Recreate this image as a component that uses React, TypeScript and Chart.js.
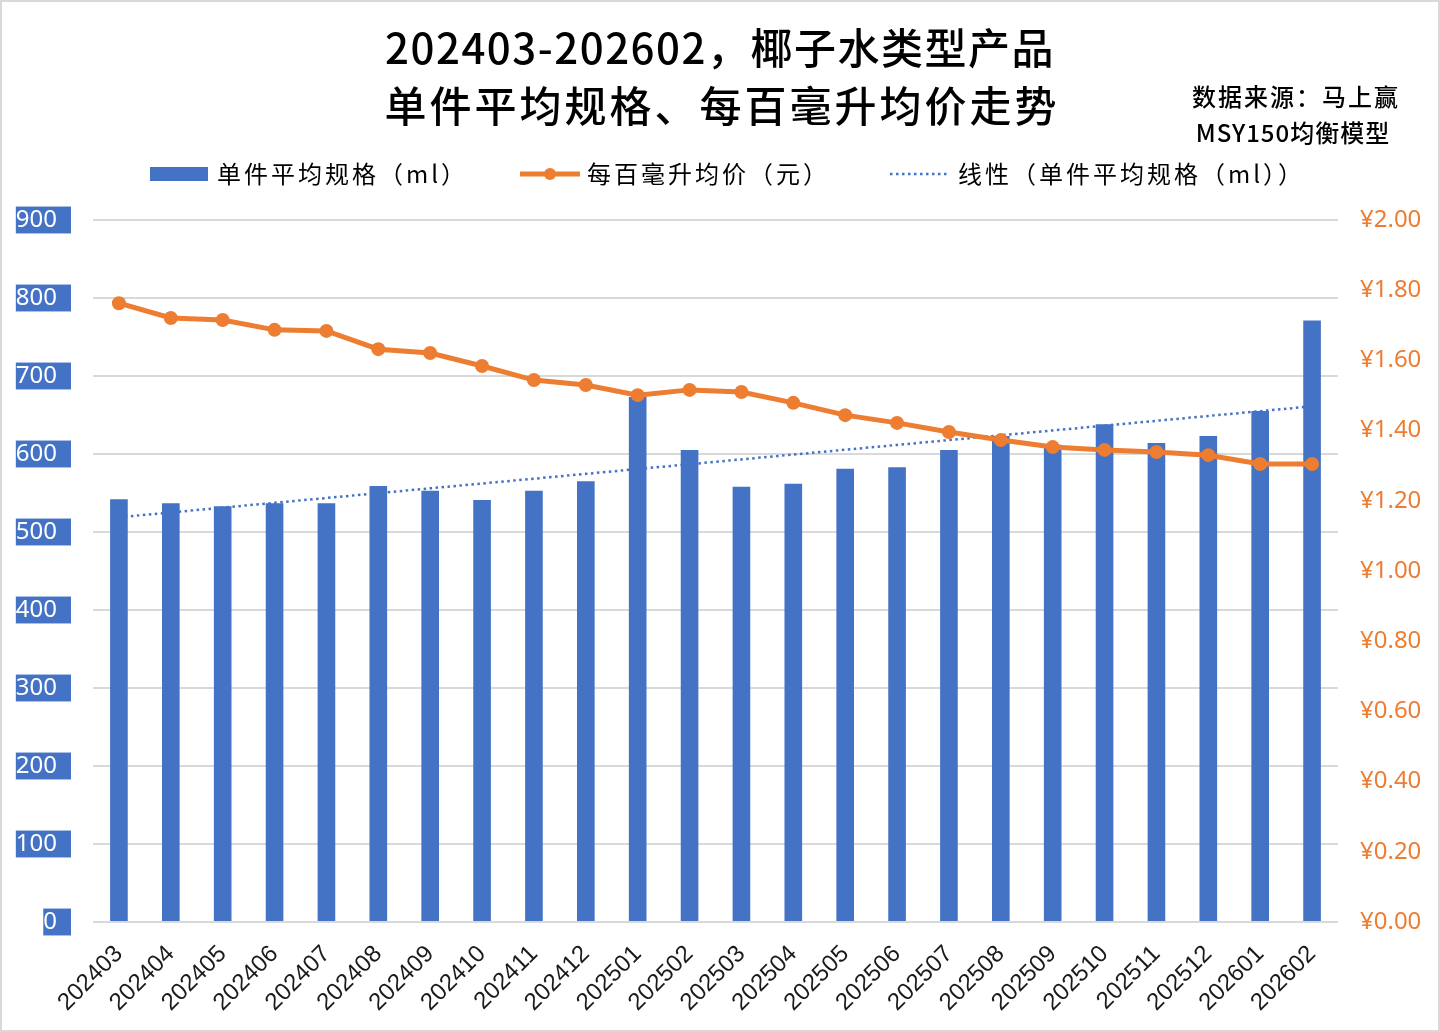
import { useEffect, useRef } from "react"
import { Chart, registerables } from "chart.js"

Chart.register(...registerables)

const months = [
  "202403", "202404", "202405", "202406", "202407", "202408", "202409", "202410",
  "202411", "202412", "202501", "202502", "202503", "202504", "202505", "202506",
  "202507", "202508", "202509", "202510", "202511", "202512", "202601", "202602",
]

// 单件平均规格 (ml)
const avgSize = [
  542, 537, 533, 537, 537, 559, 553, 541, 553, 565, 673, 605,
  558, 562, 581, 583, 605, 623, 612, 638, 614, 623, 655, 771,
]

// 每百毫升均价 (元)
const pricePer100 = [
  1.763, 1.721, 1.715, 1.687, 1.684, 1.632, 1.621, 1.584, 1.544, 1.53, 1.501, 1.516,
  1.51, 1.479, 1.444, 1.422, 1.396, 1.373, 1.353, 1.345, 1.339, 1.33, 1.305, 1.305,
]

const sizeAxis = { min: 0, max: 900, step: 100 }
const priceAxis = { min: 0, max: 2, step: 0.2 }

const titleLines = ["202403-202602，椰子水类型产品", "单件平均规格、每百毫升均价走势"]
const sourceLines = ["数据来源：马上赢", "MSY150均衡模型"]
const seriesNames = ["单件平均规格（ml）", "每百毫升均价（元）", "线性（单件平均规格（ml））"]

const BLUE = "#4472C4"
const ORANGE = "#ED7D31"
const CJK = '"Noto Sans CJK SC", "Noto Sans", sans-serif'

// least squares fit, same as Excel's linear trendline
function linearFit(values: number[]) {
  const n = values.length
  const mx = (n - 1) / 2
  const my = values.reduce((a, b) => a + b, 0) / n
  let num = 0
  let den = 0
  values.forEach((v, i) => {
    num += (i - mx) * (v - my)
    den += (i - mx) * (i - mx)
  })
  const slope = num / den
  return values.map((_, i) => my + slope * (i - mx))
}

const headerPlugin = {
  id: "header",
  beforeDraw(chart: Chart) {
    const { ctx, width, height } = chart
    ctx.save()
    ctx.fillStyle = "#fff"
    ctx.fillRect(0, 0, width, height)
    ctx.restore()
  },
  afterDraw(chart: Chart) {
    const { ctx, width, height } = chart
    const c = ctx as any
    ctx.save()
    ctx.textBaseline = "middle"
    ctx.fillStyle = "#000"

    // title
    ctx.textAlign = "center"
    ctx.font = `500 42px ${CJK}`
    c.letterSpacing = "1.5px"
    ctx.fillText(titleLines[0], 720, 48)
    c.letterSpacing = "3px"
    ctx.fillText(titleLines[1], 722, 106)

    // source note
    ctx.font = `500 24px ${CJK}`
    c.letterSpacing = "2px"
    ctx.fillText(sourceLines[0], 1296, 97)
    c.letterSpacing = "1px"
    ctx.fillText(sourceLines[1], 1293, 133)

    // legend
    ctx.textAlign = "left"
    ctx.font = `400 24px ${CJK}`
    c.letterSpacing = "3px"
    const ly = 174
    ctx.fillStyle = BLUE
    ctx.fillRect(150, 167, 58, 14)
    ctx.fillStyle = "#000"
    ctx.fillText(seriesNames[0], 217, ly)

    ctx.strokeStyle = ORANGE
    ctx.lineWidth = 5
    ctx.beginPath()
    ctx.moveTo(520, ly)
    ctx.lineTo(580, ly)
    ctx.stroke()
    ctx.fillStyle = ORANGE
    ctx.beginPath()
    ctx.arc(550, ly, 6, 0, Math.PI * 2)
    ctx.fill()
    ctx.fillStyle = "#000"
    ctx.fillText(seriesNames[1], 587, ly)

    ctx.strokeStyle = BLUE
    ctx.lineWidth = 2.5
    ctx.setLineDash([2.5, 3.5])
    ctx.beginPath()
    ctx.moveTo(890, ly)
    ctx.lineTo(948, ly)
    ctx.stroke()
    ctx.setLineDash([])
    ctx.fillText(seriesNames[2], 958, ly)

    // frame
    ctx.strokeStyle = "#d9d9d9"
    ctx.lineWidth = 2
    ctx.strokeRect(1, 1, width - 2, height - 2)
    ctx.restore()
  },
}

export default function App() {
  const chartRef = useRef<HTMLCanvasElement | null>(null)
  const chartInstanceRef = useRef<Chart | null>(null)

  useEffect(() => {
    if (!chartRef.current) return
    const ctx = chartRef.current.getContext("2d")
    if (!ctx) return

    if (chartInstanceRef.current) {
      chartInstanceRef.current.destroy()
    }

    const trend = linearFit(avgSize)

    chartInstanceRef.current = new Chart(ctx, {
      type: "bar",
      data: {
        labels: months,
        datasets: [
          {
            type: "line",
            label: seriesNames[1],
            data: pricePer100,
            yAxisID: "y1",
            borderColor: ORANGE,
            backgroundColor: ORANGE,
            borderWidth: 5,
            pointRadius: 7,
            pointBackgroundColor: ORANGE,
            pointBorderWidth: 0,
            order: 1,
          },
          {
            type: "bar",
            label: seriesNames[0],
            data: avgSize,
            yAxisID: "y",
            backgroundColor: BLUE,
            barPercentage: 0.34,
            categoryPercentage: 1,
            order: 2,
          },
          {
            type: "line",
            label: seriesNames[2],
            data: trend,
            yAxisID: "y",
            borderColor: BLUE,
            borderWidth: 2.5,
            borderDash: [2.5, 3.5],
            pointRadius: 0,
            order: 3,
          },
        ],
      },
      options: {
        animation: false,
        responsive: true,
        maintainAspectRatio: false,
        layout: { padding: { top: 220, left: 0, right: 0, bottom: 0 } },
        plugins: {
          legend: { display: false },
          title: { display: false },
          tooltip: { enabled: false },
        },
        scales: {
          x: {
            grid: { display: false },
            border: { display: false },
            ticks: {
              color: "#1a1a1a",
              font: { family: '"Liberation Sans", Arial, sans-serif', size: 24 },
              maxRotation: 45,
              minRotation: 45,
              autoSkip: false,
              padding: 10,
            },
            afterFit(scale: any) {
              scale.height = 110
            },
          },
          y: {
            position: "left",
            min: sizeAxis.min,
            max: sizeAxis.max,
            grid: { color: "#d9d9d9", lineWidth: 2, drawTicks: false },
            border: { display: false },
            ticks: {
              stepSize: sizeAxis.step,
              color: "#fff",
              font: { family: '"Noto Sans", sans-serif', size: 24, lineHeight: 1.12 },
              padding: 36,
              showLabelBackdrop: true,
              backdropColor: BLUE,
              backdropPadding: { top: 0, bottom: 0, left: 0, right: 14 },
            },
            afterFit(scale: any) {
              scale.width = 93
            },
          },
          y1: {
            position: "right",
            min: priceAxis.min,
            max: priceAxis.max,
            grid: { display: false, drawTicks: false },
            border: { display: false },
            ticks: {
              stepSize: priceAxis.step,
              color: ORANGE,
              font: { family: '"Noto Sans", sans-serif', size: 24 },
              padding: 22,
              callback: (v: any) => "¥" + Number(v).toFixed(2),
            },
            afterFit(scale: any) {
              scale.width = 102
            },
          },
        },
      },
      plugins: [headerPlugin],
    } as any)

    return () => {
      if (chartInstanceRef.current) {
        chartInstanceRef.current.destroy()
        chartInstanceRef.current = null
      }
    }
  }, [])

  return (
    <div style={{ position: "fixed", left: 0, top: 0, width: 1440, height: 1032 }}>
      <canvas ref={chartRef}></canvas>
    </div>
  )
}
